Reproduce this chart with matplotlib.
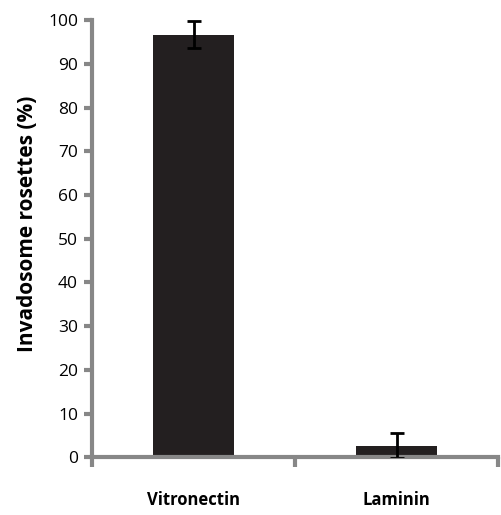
import matplotlib.pyplot as plt
import numpy as np

substrates = ['Vitronectin', 'Laminin']
rosettes = [96.7, 2.7]
errors = [3.0, 2.9]

plt.rcParams['font.family'] = ['Open Sans', 'DejaVu Sans']
axis_grey = '#878787'

fig = plt.figure(figsize=(5.02, 5.15), dpi=100)
ax = fig.add_axes([0.183, 0.112, 0.81, 0.849])

x = np.arange(len(substrates))
ax.bar(x, rosettes, width=0.4, color='#231f20', zorder=2)
ax.errorbar(x, rosettes, yerr=errors, fmt='none', ecolor='black',
            elinewidth=2, capsize=5, capthick=2, zorder=3)

ax.set_xlim(-0.5, 1.5)
ax.set_ylim(0, 100)
ax.set_yticks(np.arange(0, 101, 10))
ax.set_xticks(x)
ax.set_xticklabels(substrates, fontsize=12, fontweight='bold')
ax.set_xticks([-0.5, 0.5, 1.5], minor=True)

for side in ['top', 'right']:
    ax.spines[side].set_visible(False)
for side in ['left', 'bottom']:
    ax.spines[side].set_color(axis_grey)
    ax.spines[side].set_linewidth(3)

ax.tick_params(axis='y', length=6, width=3, color=axis_grey, labelsize=12.5, pad=4)
ax.tick_params(axis='x', which='major', length=0, pad=24)
ax.tick_params(axis='x', which='minor', length=7, width=3, color=axis_grey)

ax.set_ylabel('Invadosome rosettes (%)', fontsize=15, fontweight='bold', labelpad=7)
ax.yaxis.label.set_y(0.533)

fig.savefig('out.png', dpi=100)
